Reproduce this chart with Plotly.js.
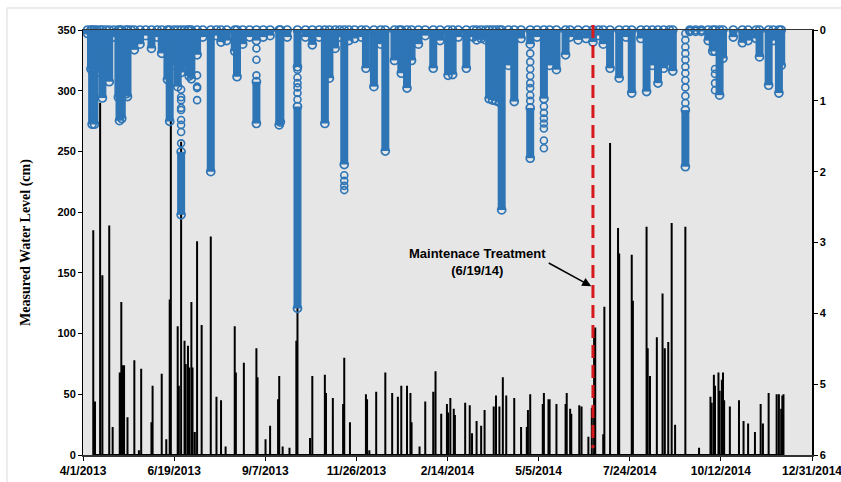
<!DOCTYPE html>
<html>
<head>
<meta charset="utf-8">
<script src="https://cdn.plot.ly/plotly-3.0.1.min.js"></script>
<style>html,body{margin:0;padding:0;background:#fff;}#chart{width:841px;height:482px;}</style>
</head>
<body>
<div id="chart"></div>
<script>
// ---- Data ----
// Measured water level (cm): spike dates and peak levels (left axis)
const levelDates = [
'2013-04-10','2013-04-11 12:00','2013-04-16','2013-04-18','2013-04-24','2013-04-27',
'2013-05-03 05:00','2013-05-04 14:00','2013-05-05 12:00','2013-05-07','2013-05-10','2013-05-16','2013-05-20','2013-05-22',
'2013-05-31','2013-06-01','2013-06-09','2013-06-13','2013-06-16','2013-06-17',
'2013-06-23','2013-06-24','2013-06-26','2013-06-29','2013-06-30','2013-07-02','2013-07-03','2013-07-05','2013-07-06','2013-07-08','2013-07-10','2013-07-14','2013-07-22','2013-07-27','2013-07-31',
'2013-08-04','2013-08-12','2013-08-13','2013-08-20','2013-08-31','2013-09-01','2013-09-08','2013-09-12','2013-09-19','2013-09-20','2013-09-23','2013-09-29',
'2013-10-05','2013-10-06','2013-10-17','2013-10-19','2013-10-30','2013-10-31','2013-11-06','2013-11-15','2013-11-16','2013-11-21',
'2013-12-05','2013-12-06','2013-12-08','2013-12-14','2013-12-22','2013-12-28',
'2014-01-02','2014-01-05','2014-01-10','2014-01-13','2014-01-14','2014-01-21','2014-01-26',
'2014-02-02','2014-02-04','2014-02-09','2014-02-14','2014-02-15','2014-02-17','2014-02-20','2014-02-21',
'2014-03-02','2014-03-06','2014-03-08','2014-03-12','2014-03-16','2014-03-19','2014-03-27','2014-03-29',
'2014-04-01','2014-04-04','2014-04-07','2014-04-14','2014-04-20','2014-04-25','2014-04-26','2014-04-28',
'2014-05-09','2014-05-10','2014-05-14','2014-05-15','2014-05-21','2014-05-29','2014-05-30',
'2014-06-02','2014-06-03','2014-06-10','2014-06-12','2014-06-18','2014-06-21','2014-06-23','2014-06-24',
'2014-07-01','2014-07-02','2014-07-07','2014-07-14','2014-07-15','2014-07-26','2014-07-27',
'2014-08-08','2014-08-09','2014-08-11','2014-08-17','2014-08-22','2014-08-24','2014-08-27','2014-08-30',
'2014-09-02','2014-09-11','2014-09-23',
'2014-10-03','2014-10-04','2014-10-06','2014-10-07','2014-10-10','2014-10-11','2014-10-13','2014-10-14','2014-10-15','2014-10-20','2014-10-28',
'2014-11-01','2014-11-05','2014-11-11','2014-11-16','2014-11-18','2014-11-23','2014-11-30',
'2014-12-02','2014-12-04','2014-12-05','2014-12-06'
];
const levelPeaks = [
185,44,290,148,189,23,
68,126,74,74,31,78,4,71,
27,57,67,13,128,278,
106,57,258,94,75,90,72,126,72,19,176,107,180,48,45,
7,106,68,76,88,64,13,24,46,65,7,6,
94,121,14,65,66,51,47,42,80,27,
50,46,4,52,68,51,
48,57,57,51,27,7,44,
52,69,34,42,35,47,38,33,
43,41,18,28,24,37,40,49,
40,64,49,47,23,23,37,50,
42,51,46,46,42,42,51,
38,34,41,40,15,39,103,105,
17,122,257,187,166,165,127,
188,88,65,97,133,88,93,191,
25,188,6,
48,43,66,57,68,53,62,68,45,40,45,
28,26,19,42,26,51,50,
50,38,49,50
];

// Rainfall readings (right axis, reversed): dense columns of readings, from top value to bottom value
const rainDates = [
'2013-04-05','2013-04-08','2013-04-09','2013-04-11','2013-04-13','2013-04-16','2013-04-18','2013-04-21','2013-04-24','2013-04-28',
'2013-05-02','2013-05-03','2013-05-05','2013-05-09','2013-05-10','2013-05-13','2013-05-16','2013-05-21','2013-05-26','2013-05-31',
'2013-06-05','2013-06-09','2013-06-14','2013-06-16','2013-06-20','2013-06-23','2013-06-26','2013-06-26','2013-06-29',
'2013-07-02','2013-07-03','2013-07-05','2013-07-10','2013-07-15','2013-07-22','2013-07-27','2013-07-31',
'2013-08-05','2013-08-12','2013-08-14','2013-08-19','2013-08-25','2013-08-31','2013-08-31',
'2013-09-06','2013-09-12','2013-09-20','2013-09-21','2013-09-27',
'2013-10-06','2013-10-06','2013-10-13','2013-10-19','2013-10-25','2013-10-30',
'2013-11-03','2013-11-08','2013-11-12','2013-11-16','2013-11-20','2013-11-25',
'2013-12-01','2013-12-05','2013-12-12','2013-12-18','2013-12-22','2013-12-30',
'2014-01-03','2014-01-05','2014-01-10','2014-01-14','2014-01-20','2014-01-26',
'2014-02-02','2014-02-08','2014-02-15','2014-02-19','2014-02-24',
'2014-03-03','2014-03-09','2014-03-12','2014-03-16','2014-03-20','2014-03-23','2014-03-26','2014-03-29','2014-04-01',
'2014-04-03','2014-04-09','2014-04-14','2014-04-20','2014-04-28','2014-04-28',
'2014-05-04','2014-05-10','2014-05-15','2014-05-21','2014-05-29',
'2014-06-02','2014-06-09','2014-06-16','2014-06-22','2014-06-27',
'2014-07-01','2014-07-07','2014-07-15','2014-07-21','2014-07-26',
'2014-08-03','2014-08-08','2014-08-13','2014-08-18','2014-08-23','2014-08-28','2014-08-31',
'2014-09-11','2014-09-15','2014-09-20','2014-09-25',
'2014-10-01','2014-10-05','2014-10-07','2014-10-11','2014-10-14','2014-10-23','2014-10-31',
'2014-11-05','2014-11-12','2014-11-15','2014-11-23','2014-11-27',
'2014-12-02','2014-12-04'
];
const rainTop = [
0,0,0,0,0,0,0,0,0,0,
0,0,0,0,0,0,0,0,0,0,
0,0,0,0,0,0,0,1.72,0,
0,0,0,0,0,0,0,0,
0,0,0,0,0,0,0.73,
0,0,0,0,0,
0,1.08,0,0,0,0,
0,0,0,0,0,0,
0,0,0,0,0,0,
0,0,0,0,0,0,
0,0,0,0,0,
0,0,0,0,0,0,0,0,0,
0,0,0,0,0,1.1,
0,0,0,0,0,
0,0,0,0,0,
0,0,0,0,0,
0,0,0,0,0,0,0,
1.13,0,0,0,
0,0,0,0,0,0,0,
0,0,0,0,0,
0,0
];
const rainBottom = [
0.05,0.55,1.33,1.33,0.6,0.6,0.96,0.2,0.73,0.1,
0.95,1.28,1.25,0.9,0.94,0.12,0.28,0.2,0.08,0.26,
0.1,0.33,0.7,1.29,0.5,0.8,0.6,2.61,0.5,
0.45,0.65,0.69,0.35,0.1,2.0,0.08,0.17,
0.15,0.3,0.66,0.2,0.1,0.15,1.32,
0.1,0.08,1.34,1.3,0.1,
0.52,3.93,0.1,0.21,0.1,1.32,
0.68,0.26,0.1,1.9,0.15,0.12,
0.1,0.54,0.8,0.2,1.71,0.43,
0.3,0.61,0.82,0.43,0.2,0.08,
0.54,0.15,0.64,0.63,0.1,
0.54,0.1,0.14,0.12,0.14,0.97,0.99,1.0,1.02,
2.54,0.5,1.01,0.12,0.2,1.81,
0.1,0.97,0.5,0.56,0.35,
0.1,0.14,0.12,0.17,0.08,
0.2,0.54,0.68,0.1,0.89,
0.12,0.87,0.5,0.75,0.54,0.5,0.58,
1.93,0.02,0.02,0.02,
0.15,0.3,0.3,0.92,0.4,0.1,0.18,
0.15,0.12,0.38,0.78,0.15,
0.89,0.5
];
// Isolated rainfall readings (individual circles)
const sparseDates = [
'2013-06-26','2013-06-26','2013-06-26','2013-06-26','2013-06-26','2013-06-26','2013-06-26','2013-06-26','2013-06-26',
'2013-07-10','2013-07-10','2013-07-10','2013-07-10',
'2013-08-31','2013-08-31','2013-08-31',
'2013-10-06','2013-10-06','2013-10-06','2013-10-06','2013-10-06','2013-10-06',
'2013-11-16','2013-11-16','2013-11-16','2013-11-16',
'2014-04-28','2014-04-28','2014-04-28','2014-04-28','2014-04-28','2014-04-28','2014-04-28','2014-04-28',
'2014-05-10','2014-05-10','2014-05-10','2014-05-10','2014-05-10','2014-05-10','2014-05-10',
'2014-09-11','2014-09-11','2014-09-11','2014-09-11','2014-09-11','2014-09-11','2014-09-11','2014-09-11','2014-09-11','2014-09-11','2014-09-11',
'2014-10-07','2014-10-07','2014-10-07','2014-10-07'
];
const sparseDepths = [
0.84,0.95,0.99,1.10,1.13,1.27,1.34,1.44,1.60,
0.64,0.80,0.82,0.99,
0.26,0.42,0.64,
0.56,0.67,0.75,0.81,0.89,0.98,
2.05,2.13,2.20,2.26,
0.33,0.45,0.55,0.65,0.75,0.82,0.92,1.0,
1.08,1.17,1.25,1.32,1.39,1.56,1.67,
0.05,0.14,0.24,0.33,0.42,0.52,0.61,0.71,0.81,0.93,1.03,
0.55,0.62,0.75,0.85
];

const xTickLabels = ['4/1/2013','6/19/2013','9/7/2013','11/26/2013','2/14/2014','5/5/2014','7/24/2014','10/12/2014','12/31/2014'];
const treatmentDate = '2014-06-22';
const treatmentLabel = 'Maintenace Treatment<br>(6/19/14)';

// ---- Build traces ----
const lx = [], ly = [];
levelDates.forEach((d, i) => { lx.push(d, d, d); ly.push(0, levelPeaks[i], 0); });

const rx = [], ry = [];
rainDates.forEach((d, i) => { rx.push(d, d, null); ry.push(rainTop[i], rainBottom[i], null); });

const blue = '#2e75b6';
const startMs = Date.UTC(2013, 3, 1), endMs = Date.UTC(2014, 11, 31);
function fmt(ms) { return new Date(ms).toISOString().slice(0, 19).replace('T', ' '); }
const tickVals = xTickLabels.map((_, i) => fmt(startMs + i * (endMs - startMs) / (xTickLabels.length - 1)));

const traces = [
  { x: lx, y: ly, type: 'scatter', mode: 'lines', line: { color: '#000', width: 2 }, yaxis: 'y', hoverinfo: 'skip', showlegend: false },
  { x: rx, y: ry, type: 'scatter', mode: 'lines+markers', yaxis: 'y2', cliponaxis: false,
    line: { color: blue, width: 8 },
    marker: { symbol: 'circle-open', size: 8, color: blue, line: { width: 1.7, color: blue } }, showlegend: false },
  { x: sparseDates, y: sparseDepths, type: 'scatter', mode: 'markers', yaxis: 'y2', cliponaxis: false,
    marker: { symbol: 'circle-open', size: 7, color: blue, line: { width: 1.6, color: blue } }, showlegend: false }
];

const tickFont = { family: 'Liberation Sans, Arial, sans-serif', size: 12, color: '#000', weight: 'bold' };
const layout = {
  width: 841, height: 482,
  margin: { l: 83, r: 29, t: 30, b: 27 },
  paper_bgcolor: '#ffffff', plot_bgcolor: '#e6e6e6',
  showlegend: false,
  xaxis: {
    type: 'date', range: ['2013-04-01', '2014-12-31 00:05'],
    tickmode: 'array', tickvals: tickVals, ticktext: xTickLabels, ticklabeloverflow: 'allow',
    ticks: 'outside', ticklen: 4, tickcolor: '#000', tickwidth: 1,
    showline: true, linecolor: '#333', linewidth: 1.5, mirror: true,
    showgrid: false, zeroline: false, tickfont: tickFont
  },
  yaxis: {
    range: [0, 350], dtick: 50, ticks: 'outside', ticklen: 4, tickcolor: '#000',
    showline: true, linecolor: '#000', linewidth: 1, showgrid: false, zeroline: false,
    tickfont: Object.assign({}, tickFont, { size: 11 }),
    title: { text: 'Measured Water Level (cm)', standoff: 23,
      font: { family: 'Liberation Serif, Times New Roman, serif', size: 14, color: '#000', weight: 'bold' } }
  },
  yaxis2: {
    overlaying: 'y', side: 'right', range: [6, 0], dtick: 1, ticks: 'outside', ticklen: 4, tickcolor: '#000',
    showline: true, linecolor: '#000', linewidth: 1.5, showgrid: false, zeroline: false,
    tickfont: Object.assign({}, tickFont, { size: 11 })
  },
  shapes: [
    { type: 'rect', xref: 'paper', yref: 'paper', x0: -0.1043, x1: 1.2, y0: -0.2, y1: 1.0518,
      line: { color: '#d9d9d9', width: 1 }, fillcolor: 'rgba(0,0,0,0)', layer: 'below' },
    { type: 'line', xref: 'x', yref: 'paper', x0: treatmentDate, x1: treatmentDate, y0: 1.012, y1: 0.016,
      line: { color: '#d7191c', width: 3, dash: '13px,7px' } }
  ],
  annotations: [
    { x: '2014-03-12 12:00', y: 159, xref: 'x', yref: 'y', text: treatmentLabel, showarrow: false,
      align: 'center', font: { family: 'Liberation Sans, Arial, sans-serif', size: 13, color: '#000', weight: 'bold' } },
    { x: '2014-06-20 12:00', y: 139, xref: 'x', yref: 'y', text: '', showarrow: true,
      ax: -44, ay: -24, arrowhead: 2, arrowsize: 1.2, arrowwidth: 1.5, arrowcolor: '#000' }
  ]
};

Plotly.newPlot('chart', traces, layout, { staticPlot: true, displayModeBar: false });
</script>
</body>
</html>
